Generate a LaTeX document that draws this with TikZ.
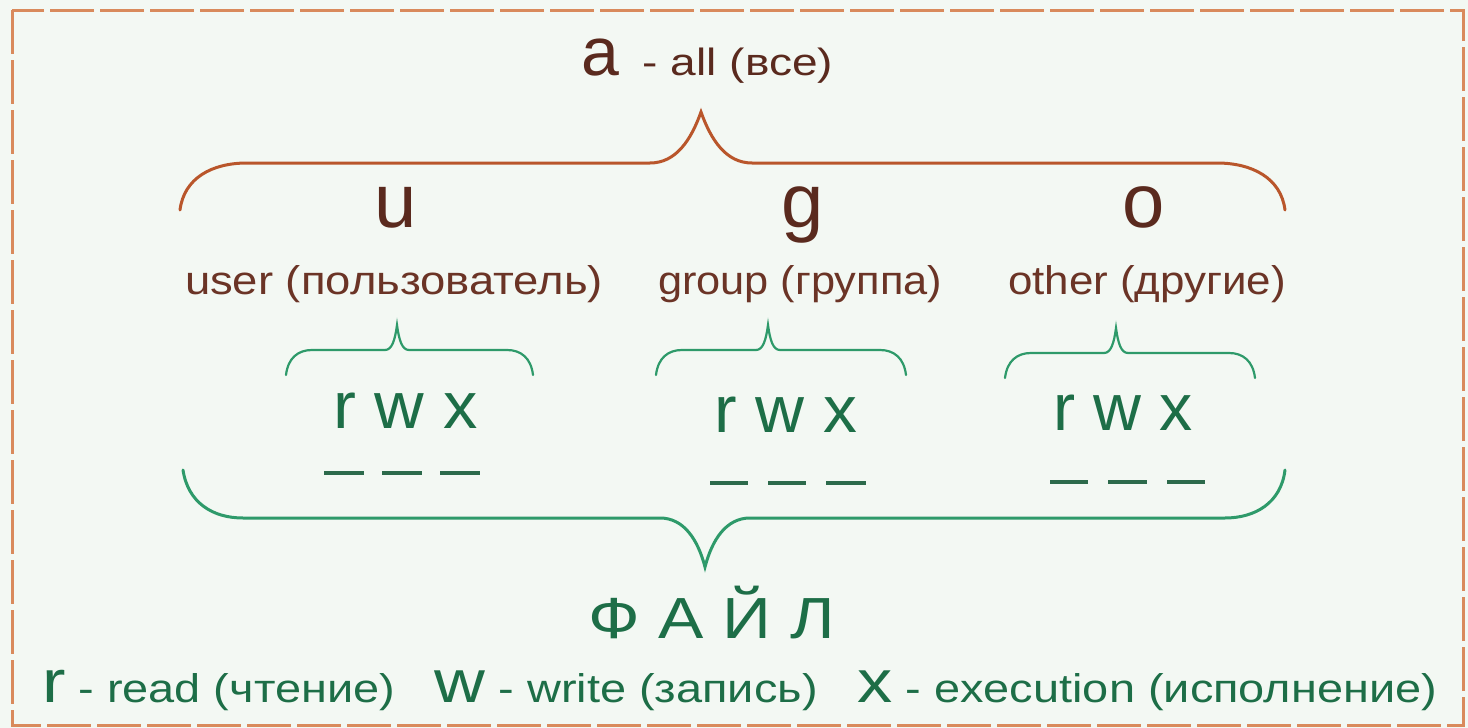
\documentclass[tikz,border=0pt]{standalone}
\usepackage{fontspec}
\setmainfont{Liberation Sans}
\usepackage{graphicx}
\definecolor{bg}{HTML}{F3F8F3}
\definecolor{frame}{HTML}{D98A5C}
\definecolor{rust}{HTML}{B9562B}
\definecolor{brownA}{HTML}{5A2A1E}
\definecolor{brownB}{HTML}{6B3426}
\definecolor{gbrace}{HTML}{2E9A6A}
\definecolor{gtext}{HTML}{1D6E47}
\definecolor{gdash}{HTML}{2C6A4B}
\newcommand{\fsz}[1]{\fontsize{#1}{#1}\selectfont}
\newcommand{\wbox}[2]{\resizebox{#1pt}{\height}{#2}}
\begin{document}
\begin{tikzpicture}[x=1pt,y=-1pt,
  txt/.style={inner sep=0pt,outer sep=0pt},
  bigbrace/.style={line width=3pt,line cap=round},
  smallbrace/.style={draw=gbrace,line width=2.2pt,line cap=round},
  slot/.style={draw=gdash,line width=4pt}]
\useasboundingbox (0,0) rectangle (1468,728);
\fill[bg] (0,0) rectangle (1468,728);
\draw[frame,line width=3pt,dash pattern=on 44pt off 6pt] (12,10) rectangle (1463,725);

% top label
\node[txt,anchor=base west,text=brownA] (a) at (581,75) {\fsz{68}a};
\node[txt,anchor=base west,text=brownA] (all) at (630,75)
  {\wbox{203}{\fsz{38}\ - all (все)}};

% top rust brace
\draw[bigbrace,rust] (180,210) .. controls (184,178) and (212,163) .. (247,163) -- (650,163)
  .. controls (676,163) and (691,140) .. (701,112)
  .. controls (711,140) and (726,163) .. (752,163) -- (1217,163)
  .. controls (1252,163) and (1281,178) .. (1285,210);

% u g o
\node[txt,anchor=base,text=brownA] (u) at (396,227) {\fsz{76}u};
\node[txt,anchor=base,text=brownA] (g) at (803,227) {\fsz{76}g};
\node[txt,anchor=base,text=brownA] (o) at (1144,227) {\fsz{76}o};

\node[txt,anchor=base west,text=brownB] (user) at (185,294)
  {\wbox{418}{\fsz{40}user (пользователь)}};
\node[txt,anchor=base west,text=brownB] (group) at (658,294)
  {\wbox{284}{\fsz{40}group (группа)}};
\node[txt,anchor=base west,text=brownB] (other) at (1008,294)
  {\wbox{278}{\fsz{40}other (другие)}};

% small green braces
\draw[smallbrace] (286,375) .. controls (288,358) and (298,350) .. (312,350) -- (385,350)
  .. controls (392,350) and (395,340) .. (397,325)
  .. controls (399,340) and (402,350) .. (409,350) -- (507,350)
  .. controls (521,350) and (531,358) .. (533,375);
\draw[smallbrace] (656,375) .. controls (658,358) and (668,350) .. (682,350) -- (756,350)
  .. controls (763,350) and (766,340) .. (768,325)
  .. controls (770,340) and (773,350) .. (780,350) -- (880,350)
  .. controls (894,350) and (904,358) .. (906,375);
\draw[smallbrace] (1005,378) .. controls (1007,361) and (1017,353) .. (1031,353) -- (1104,353)
  .. controls (1111,353) and (1114,343) .. (1116,328)
  .. controls (1118,343) and (1121,353) .. (1128,353) -- (1229,353)
  .. controls (1243,353) and (1253,361) .. (1255,378);

% rwx
\node[txt,anchor=base west,text=gtext] (rwx1) at (333,428) {\wbox{145}{\fsz{66}r w x}};
\node[txt,anchor=base west,text=gtext] (rwx2) at (714,432) {\wbox{143}{\fsz{66}r w x}};
\node[txt,anchor=base west,text=gtext] (rwx3) at (1053,430) {\wbox{140}{\fsz{66}r w x}};

% slots
\draw[slot] (324,473) -- (364,473) (382,473) -- (422,473) (440,473) -- (480,473);
\draw[slot] (710,483) -- (748,483) (768,483) -- (806,483) (826,483) -- (866,483);
\draw[slot] (1050,482) -- (1088,482) (1108,482) -- (1147,482) (1167,482) -- (1205,482);

% big green brace
\draw[bigbrace,gbrace] (183,470) .. controls (188,503) and (213,518) .. (243,518) -- (660,518)
  .. controls (684,518) and (698,540) .. (705,567)
  .. controls (712,540) and (726,518) .. (750,518) -- (1225,518)
  .. controls (1255,518) and (1281,503) .. (1285,470);

% file label
\node[txt,anchor=base west,text=gtext] (file) at (588,638)
  {\wbox{247}{\fsz{58}Ф А Й Л}};

% legend
\node[txt,anchor=base west,text=gtext] (legend) at (42,702)
  {\wbox{1395}{\fsz{60}r\fsz{40}\ - read (чтение)\hspace{34pt}\fsz{60}w\fsz{40}\ - write (запись)\hspace{34pt}\fsz{60}x\fsz{40}\ - execution (исполнение)}};
\end{tikzpicture}
\end{document}
